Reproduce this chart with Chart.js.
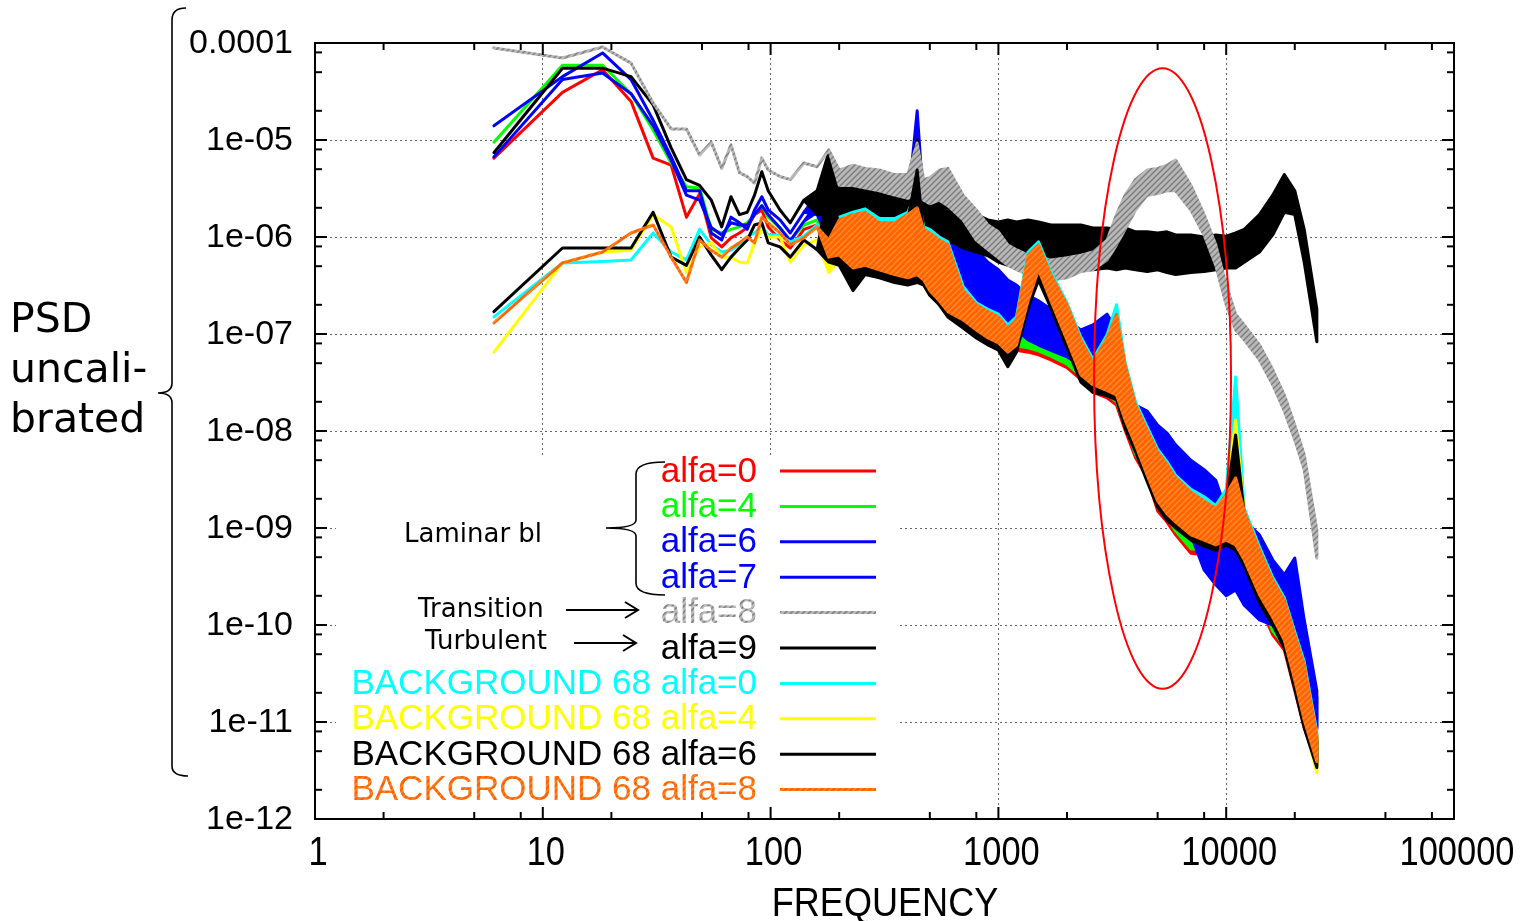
<!DOCTYPE html>
<html>
<head>
<meta charset="utf-8">
<script src="https://cdn.jsdelivr.net/npm/chart.js@4.4.1/dist/chart.umd.min.js"></script>
<style>
  html, body { margin: 0; padding: 0; background: #fff; }
  #wrap { width: 1522px; height: 921px; }
</style>
</head>
<body>
<div id="wrap"><canvas id="psd" width="1522" height="921"></canvas></div>
<script>
// FFT bin frequencies (Hz) used for every trace
const freq = [6.1, 12.2, 18.3, 24.4, 30.5, 36.6, 42.7, 48.8, 54.9, 61, 67, 73, 79, 85, 91.5, 97.6,
  110, 122, 140, 160, 180, 200, 230, 260, 300, 350, 400, 440, 470, 500, 550, 600, 700, 800, 900,
  1000, 1100, 1200, 1350, 1500, 1700, 2000, 2300, 2600, 3000, 3300, 3600, 4000, 4500, 5000, 5500,
  6000, 7000, 8000, 9000, 10000, 11000, 12000, 14000, 16000, 18000, 20000, 22000, 25000];

// each spectrum: upper envelope, and lower envelope where the trace is noisy (null = single line)
const alfa0Upper = [6.5e-6, 3.1e-5, 5.3e-5, 2.5e-5, 6.5e-6, 5.5e-6, 1.6e-6, 2.8e-6, 9.8e-7, 7.9e-7, 9.8e-7, 1.1e-6, 1.25e-6, 1.7e-6, 1.9e-6, 1.27e-6,
  9.3e-7, 7.7e-7, 1.2e-6, 1.33e-6, 1.33e-6, 1.7e-6, 1.7e-6, 1.8e-6, 1.5e-6, 1.43e-6, 1.6e-6, 2.1e-6, 1.13e-6, 1.05e-6, 8.9e-7, 7.4e-7,
  4.1e-7, 2.8e-7, 2.2e-7, 2.0e-7, 1.8e-7, 1.6e-7, 1.4e-7, 1.24e-7, 1.15e-7, 1.1e-7, 8.3e-8, 5.1e-8, 7.7e-8, 9.8e-8, 4.5e-8, 1.7e-8,
  9.8e-9, 5.7e-9, 4.2e-9, 3.1e-9, 2.2e-9, 1.85e-9, 1.5e-9, 2.0e-9, 2.5e-9, 1.45e-9, 5.7e-10, 2.8e-10, 1.7e-10, 7.5e-11, 3.7e-11, 7.0e-12];
const alfa0Lower = [null, null, null, null, null, null, null, null, null, null, null, null, null, null, null, null, null, null, null, null,
  6.1e-7, 5.5e-7, 4.4e-7, 4.6e-7, 4.1e-7, 3.6e-7, 3.4e-7, 3.6e-7, 3.2e-7, 2.6e-7, 2.0e-7, 1.6e-7, 1.33e-7, 1.05e-7, 8.7e-8, 7.4e-8,
  6.5e-8, 6.8e-8, 6.5e-8, 6.1e-8, 5.4e-8, 4.5e-8, 3.4e-8, 2.5e-8, 2.2e-8, 1.85e-8, 1.02e-8, 5.3e-9, 3.3e-9, 1.5e-9, 1.15e-9, 8.5e-10,
  5.5e-10, 5.3e-10, 4.7e-10, 4.7e-10, 4.2e-10, 3.3e-10, 1.6e-10, 7.9e-11, 5.5e-11, 2.1e-11, 8.7e-12, 3.6e-12];

const alfa4Upper = [9.5e-6, 5.9e-5, 5.9e-5, 3.0e-5, 1.27e-5, 5.8e-6, 3.3e-6, 3.2e-6, 1.2e-6, 1.1e-6, 1.2e-6, 1.27e-6, 1.4e-6, 1.7e-6, 2.1e-6, 1.6e-6,
  1.24e-6, 9.3e-7, 1.33e-6, 1.5e-6, 1.4e-6, 1.8e-6, 1.8e-6, 1.9e-6, 1.6e-6, 1.5e-6, 1.65e-6, 5.5e-6, 1.2e-6, 1.1e-6, 9.3e-7, 7.7e-7,
  4.3e-7, 3.0e-7, 2.35e-7, 2.1e-7, 1.85e-7, 1.64e-7, 1.5e-7, 1.3e-7, 1.2e-7, 1.15e-7, 8.7e-8, 5.7e-8, 1.4e-7, 1.02e-7, 4.7e-8, 1.8e-8,
  1.02e-8, 5.9e-9, 4.4e-9, 3.3e-9, 2.35e-9, 1.95e-9, 1.6e-9, 2.1e-9, 4.0e-9, 1.5e-9, 5.9e-10, 2.9e-10, 1.8e-10, 7.9e-11, 3.9e-11, 7.3e-12];
const alfa4Lower = [null, null, null, null, null, null, null, null, null, null, null, null, null, null, null, null, null, null, null, null,
  6.7e-7, 6.1e-7, 4.8e-7, 5.0e-7, 4.5e-7, 4.0e-7, 3.8e-7, 4.0e-7, 3.5e-7, 2.9e-7, 2.2e-7, 1.7e-7, 1.5e-7, 1.15e-7, 9.5e-8, 8.1e-8,
  7.2e-8, 7.5e-8, 7.2e-8, 6.7e-8, 5.9e-8, 4.9e-8, 3.7e-8, 2.8e-8, 2.4e-8, 2.0e-8, 1.13e-8, 5.8e-9, 3.6e-9, 1.7e-9, 1.27e-9, 9.3e-10,
  6.1e-10, 5.9e-10, 5.1e-10, 5.1e-10, 4.7e-10, 3.6e-10, 1.76e-10, 8.7e-11, 6.1e-11, 2.35e-11, 9.5e-12, 3.9e-12];

const alfa6Upper = [1.4e-5, 4.5e-5, 7.9e-5, 4.2e-5, 1.6e-5, 6.7e-6, 3.0e-6, 3.0e-6, 1.1e-6, 9.3e-7, 1.6e-6, 1.4e-6, 1.2e-6, 1.9e-6, 2.6e-6, 1.9e-6,
  1.5e-6, 1.1e-6, 1.8e-6, 2.7e-6, 3.3e-6, 2.4e-6, 2.1e-6, 2.0e-6, 1.7e-6, 1.9e-6, 2.1e-6, 2.0e-5, 2.1e-6, 2.4e-6, 3.9e-6, 1.24e-6,
  9.3e-7, 7.4e-7, 5.5e-7, 4.6e-7, 3.6e-7, 3.2e-7, 2.5e-7, 2.2e-7, 1.8e-7, 1.4e-7, 1.1e-7, 1.24e-7, 1.6e-7, 1.1e-7, 3.8e-8, 1.85e-8,
  1.6e-8, 1.15e-8, 9.5e-9, 7.2e-9, 5.0e-9, 4.0e-9, 3.1e-9, 1.5e-9, 1.5e-9, 1.2e-9, 8.5e-10, 4.7e-10, 3.3e-10, 4.9e-10, 1.13e-10, 2.1e-11];
const alfa6Lower = [null, null, null, null, null, null, null, null, null, null, null, null, null, null, null, null, null, null, null,
  1.7e-6, 9.3e-7, 6.5e-7, 5.5e-7, 4.8e-7, 4.8e-7, 4.6e-7, 4.4e-7, 4.6e-7, 4.1e-7, 3.6e-7, 3.2e-7, 2.8e-7, 2.5e-7, 2.2e-7, 1.8e-7,
  1.5e-7, 1.24e-7, 1.1e-7, 8.7e-8, 7.7e-8, 6.8e-8, 5.8e-8, 4.8e-8, 3.8e-8, 3.0e-8, 2.35e-8, 1.3e-8, 7.2e-9, 3.8e-9, 2.1e-9, 1.5e-9,
  1.24e-9, 8.5e-10, 3.7e-10, 2.6e-10, 2.0e-10, 2.3e-10, 1.6e-10, 1.13e-10, 1.0e-10, 7.0e-11, 3.4e-11, 1.7e-11, 8.3e-12];

const alfa7Upper = [6.7e-6, 4.2e-5, 4.9e-5, 3.0e-5, 1.4e-5, 6.2e-6, 2.7e-6, 2.4e-6, 1.25e-6, 1.05e-6, 1.4e-6, 1.33e-6, 1.33e-6, 1.7e-6, 2.1e-6, 1.7e-6,
  1.24e-6, 9.1e-7, 1.45e-6, 2.2e-6, 2.7e-6, 2.0e-6, 1.8e-6, 1.65e-6, 1.4e-6, 1.6e-6, 1.8e-6, 7.9e-6, 1.8e-6, 2.0e-6, 1.5e-6, 1.02e-6,
  7.7e-7, 6.1e-7, 4.6e-7, 3.8e-7, 2.9e-7, 2.6e-7, 2.1e-7, 1.85e-7, 1.5e-7, 1.15e-7, 9.1e-8, 1.02e-7, 1.3e-7, 9.1e-8, 3.1e-8, 1.5e-8,
  1.36e-8, 9.5e-9, 7.9e-9, 5.9e-9, 4.2e-9, 3.3e-9, 2.6e-9, 1.27e-9, 1.27e-9, 1.0e-9, 7.0e-10, 3.8e-10, 2.7e-10, 1.8e-10, 9.3e-11, 1.8e-11];
const alfa7Lower = [null, null, null, null, null, null, null, null, null, null, null, null, null, null, null, null, null, null, null,
  1.8e-6, 1.0e-6, 7.0e-7, 6.0e-7, 5.1e-7, 5.1e-7, 4.9e-7, 4.7e-7, 4.9e-7, 4.4e-7, 3.9e-7, 3.5e-7, 3.1e-7, 2.7e-7, 2.4e-7, 1.9e-7,
  1.6e-7, 1.33e-7, 1.18e-7, 9.3e-8, 8.3e-8, 7.3e-8, 6.2e-8, 5.1e-8, 4.1e-8, 3.2e-8, 2.5e-8, 1.4e-8, 7.7e-9, 4.1e-9, 2.2e-9, 1.6e-9,
  1.33e-9, 9.1e-10, 4.0e-10, 2.8e-10, 2.2e-10, 2.45e-10, 1.7e-10, 1.2e-10, 1.07e-10, 7.5e-11, 3.7e-11, 1.8e-11, 8.9e-12];

const alfa8Upper = [8.9e-5, 7.0e-5, 9.1e-5, 6.2e-5, 2.4e-5, 1.3e-5, 1.3e-5, 7.0e-6, 9.5e-6, 5.1e-6, 8.9e-6, 4.6e-6, 4.2e-6, 3.6e-6, 6.5e-6, 4.9e-6,
  4.2e-6, 3.9e-6, 5.8e-6, 5.3e-6, 7.9e-6, 4.9e-6, 5.5e-6, 5.1e-6, 4.9e-6, 4.4e-6, 4.4e-6, 9.3e-6, 3.9e-6, 4.1e-6, 4.9e-6, 5.1e-6,
  2.7e-6, 1.9e-6, 1.33e-6, 1.13e-6, 8.3e-7, 7.4e-7, 6.5e-7, 6.2e-7, 5.8e-7, 6.1e-7, 6.5e-7, 7.0e-7, 9.3e-7, 1.7e-6, 2.7e-6, 3.9e-6,
  4.9e-6, 5.1e-6, 5.5e-6, 6.2e-6, 3.4e-6, 1.7e-6, 8.3e-7, 3.2e-7, 1.6e-7, 1.24e-7, 7.7e-8, 4.3e-8, 2.35e-8, 1.15e-8, 5.7e-9, 9.5e-10];
const alfa8Lower = [null, null, null, null, null, null, null, null, null, null, null, null, null, null, null, null, null, null, null, null, null,
  3.4e-6, 3.4e-6, 3.2e-6, 3.0e-6, 2.7e-6, 2.5e-6, 2.7e-6, 2.4e-6, 2.2e-6, 2.4e-6, 2.1e-6, 1.5e-6, 9.3e-7, 7.4e-7, 6.1e-7, 5.1e-7,
  4.6e-7, 4.1e-7, 3.8e-7, 3.6e-7, 3.8e-7, 4.4e-7, 4.6e-7, 5.8e-7, 8.3e-7, 1.2e-6, 1.9e-6, 2.7e-6, 2.8e-6, 3.0e-6, 3.0e-6, 1.9e-6,
  1.05e-6, 5.1e-7, 2.0e-7, 1.1e-7, 8.7e-8, 5.4e-8, 3.0e-8, 1.6e-8, 8.1e-9, 4.0e-9, 4.9e-10];

const alfa9Upper = [7.4e-6, 5.5e-5, 5.5e-5, 4.5e-5, 2.3e-5, 8.3e-6, 3.9e-6, 3.4e-6, 2.4e-6, 1.27e-6, 2.6e-6, 1.7e-6, 1.8e-6, 2.7e-6, 4.7e-6, 3.0e-6,
  1.9e-6, 1.4e-6, 2.4e-6, 3.0e-6, 7.4e-6, 4.4e-6, 4.4e-6, 4.9e-6, 4.4e-6, 4.1e-6, 3.9e-6, 1.0e-5, 3.4e-6, 3.4e-6, 3.9e-6, 4.4e-6,
  1.9e-6, 1.7e-6, 1.5e-6, 1.43e-6, 1.5e-6, 1.43e-6, 1.5e-6, 1.43e-6, 1.33e-6, 1.33e-6, 1.33e-6, 1.24e-6, 1.24e-6, 1.2e-6, 1.24e-6, 1.13e-6,
  1.13e-6, 1.1e-6, 1.13e-6, 1.05e-6, 1.05e-6, 1.0e-6, 1.05e-6, 1.02e-6, 1.1e-6, 1.2e-6, 1.7e-6, 2.7e-6, 4.4e-6, 3.0e-6, 1.2e-6, 1.8e-7];
const alfa9Lower = [null, null, null, null, null, null, null, null, null, null, null, null, null, null, null, null, null, null, null,
  1.7e-6, 1.7e-6, 1.33e-6, 1.2e-6, 1.33e-6, 1.2e-6, 1.13e-6, 1.05e-6, 1.13e-6, 1.13e-6, 1.05e-6, 1.05e-6, 9.3e-7, 7.7e-7, 7.0e-7, 6.4e-7,
  5.5e-7, 5.1e-7, 5.5e-7, 5.5e-7, 5.1e-7, 5.4e-7, 4.8e-7, 5.1e-7, 4.6e-7, 4.8e-7, 4.6e-7, 4.8e-7, 4.6e-7, 4.4e-7, 4.6e-7, 4.3e-7,
  4.1e-7, 4.3e-7, 4.4e-7, 4.6e-7, 4.8e-7, 4.8e-7, 5.5e-7, 7.0e-7, 1.05e-6, 1.8e-6, 1.7e-6, 5.5e-7, 8.3e-8];

const bg0Upper = [1.5e-7, 5.4e-7, 5.6e-7, 5.8e-7, 1.1e-6, 7.0e-7, 5.8e-7, 1.2e-6, 8.3e-7, 7.0e-7, 7.3e-7, 8.3e-7, 1.0e-6, 1.1e-6, 1.27e-6, 1.05e-6,
  1.05e-6, 8.9e-7, 1.02e-6, 1.33e-6, 1.0e-6, 1.6e-6, 1.8e-6, 1.95e-6, 1.55e-6, 1.55e-6, 1.8e-6, 3.0e-6, 1.27e-6, 1.2e-6, 1.0e-6, 8.9e-7,
  3.1e-7, 2.1e-7, 1.8e-7, 1.6e-7, 1.24e-7, 1.5e-7, 7.0e-7, 8.9e-7, 4.4e-7, 2.1e-7, 9.3e-8, 5.5e-8, 9.8e-8, 2.0e-7, 5.1e-8, 2.0e-8,
  1.1e-8, 6.5e-9, 4.8e-9, 3.5e-9, 2.5e-9, 2.1e-9, 1.7e-9, 2.5e-9, 3.6e-8, 1.6e-9, 6.4e-10, 3.1e-10, 1.9e-10, 8.5e-11, 4.2e-11, 7.9e-12];
const bg0Lower = [null, null, null, null, null, null, null, null, null, null, null, null, null, null, null, null, null, null, null, null,
  6.5e-7, 6.8e-7, 5.0e-7, 5.4e-7, 4.8e-7, 4.3e-7, 4.0e-7, 4.3e-7, 3.8e-7, 3.0e-7, 2.35e-7, 1.8e-7, 1.5e-7, 1.1e-7, 7.7e-8, 7.2e-8,
  6.8e-8, 8.1e-8, 2.35e-7, 4.8e-7, 2.35e-7, 9.1e-8, 4.0e-8, 3.1e-8, 2.8e-8, 2.5e-8, 1.36e-8, 7.5e-9, 3.7e-9, 2.0e-9, 1.5e-9, 1.2e-9,
  8.9e-10, 7.9e-10, 7.0e-10, 7.9e-10, 7.0e-10, 4.9e-10, 2.1e-10, 1.24e-10, 7.4e-11, 2.8e-11, 1.1e-11, 4.1e-12];

const bg4Upper = [6.5e-8, 5.4e-7, 7.0e-7, 7.3e-7, 1.7e-6, 1.27e-6, 4.3e-7, 7.9e-7, 8.7e-7, 6.2e-7, 6.2e-7, 5.5e-7, 5.4e-7, 8.7e-7, 1.2e-6, 1.0e-6,
  1.0e-6, 5.5e-7, 8.3e-7, 9.3e-7, 8.9e-7, 1.43e-6, 1.6e-6, 1.75e-6, 1.36e-6, 1.36e-6, 1.6e-6, 1.9e-6, 1.13e-6, 1.07e-6, 8.9e-7, 7.9e-7,
  2.7e-7, 1.9e-7, 1.6e-7, 1.4e-7, 1.1e-7, 1.33e-7, 6.2e-7, 7.9e-7, 3.9e-7, 1.9e-7, 8.3e-8, 4.9e-8, 8.7e-8, 1.5e-7, 4.6e-8, 1.75e-8,
  9.8e-9, 5.8e-9, 4.25e-9, 3.1e-9, 2.2e-9, 1.85e-9, 1.5e-9, 2.1e-9, 1.3e-8, 1.45e-9, 5.7e-10, 2.8e-10, 1.7e-10, 7.5e-11, 3.7e-11, 7.0e-12];
const bg4Lower = [null, null, null, null, null, null, null, null, null, null, null, null, null, null, null, null, null, null, null, null,
  4.3e-7, 5.8e-7, 4.3e-7, 4.8e-7, 4.1e-7, 3.6e-7, 3.4e-7, 3.6e-7, 3.2e-7, 2.6e-7, 2.0e-7, 1.5e-7, 1.24e-7, 1.02e-7, 8.3e-8, 7.5e-8,
  6.1e-8, 7.2e-8, 2.0e-7, 4.2e-7, 2.0e-7, 7.9e-8, 3.4e-8, 2.7e-8, 2.4e-8, 2.1e-8, 1.2e-8, 6.5e-9, 3.2e-9, 1.76e-9, 1.3e-9, 1.05e-9,
  7.7e-10, 6.8e-10, 6.1e-10, 6.8e-10, 6.1e-10, 4.25e-10, 1.85e-10, 1.07e-10, 6.4e-11, 2.5e-11, 9.5e-12, 3.0e-12];

const bg6Upper = [1.7e-7, 7.7e-7, 7.7e-7, 7.7e-7, 1.8e-6, 6.2e-7, 5.1e-7, 1.0e-6, 6.5e-7, 4.6e-7, 6.2e-7, 7.7e-7, 9.3e-7, 1.33e-6, 1.4e-6, 8.7e-7,
  7.9e-7, 6.2e-7, 9.3e-7, 7.4e-7, 3.4e-6, 1.33e-6, 1.33e-6, 1.7e-6, 1.33e-6, 1.33e-6, 1.5e-6, 4.9e-6, 1.05e-6, 9.8e-7, 8.3e-7, 7.4e-7,
  2.5e-7, 1.8e-7, 1.55e-7, 1.33e-7, 1.05e-7, 1.24e-7, 5.5e-7, 7.4e-7, 3.6e-7, 1.8e-7, 7.7e-8, 4.7e-8, 8.3e-8, 1.4e-7, 4.3e-8, 1.6e-8,
  9.3e-9, 5.5e-9, 4.0e-9, 3.0e-9, 2.1e-9, 1.76e-9, 1.45e-9, 1.95e-9, 9.1e-9, 1.4e-9, 5.4e-10, 2.6e-10, 1.64e-10, 7.0e-11, 3.4e-11, 6.5e-12];
const bg6Lower = [null, null, null, null, null, null, null, null, null, null, null, null, null, null, null, null, null, null, null, null,
  5.5e-7, 5.1e-7, 2.8e-7, 4.1e-7, 3.8e-7, 3.4e-7, 3.2e-7, 3.4e-7, 3.2e-7, 2.5e-7, 2.0e-7, 1.5e-7, 1.15e-7, 9.1e-8, 7.7e-8, 6.8e-8,
  4.6e-8, 6.5e-8, 1.85e-7, 3.6e-7, 1.85e-7, 7.2e-8, 3.2e-8, 2.5e-8, 2.3e-8, 2.1e-8, 1.07e-8, 6.1e-9, 3.0e-9, 1.64e-9, 1.2e-9, 1.0e-9,
  7.5e-10, 6.5e-10, 5.9e-10, 6.7e-10, 5.9e-10, 4.1e-10, 1.7e-10, 1.0e-10, 5.8e-11, 2.2e-11, 8.7e-12, 3.4e-12];

const bg8Upper = [1.3e-7, 5.4e-7, 7.0e-7, 1.1e-6, 1.33e-6, 6.2e-7, 3.4e-7, 9.3e-7, 7.3e-7, 6.2e-7, 7.7e-7, 8.7e-7, 1.0e-6, 8.7e-7, 1.6e-6, 1.4e-6,
  1.1e-6, 8.3e-7, 9.8e-7, 1.27e-6, 9.3e-7, 1.5e-6, 1.7e-6, 1.8e-6, 1.4e-6, 1.4e-6, 1.7e-6, 2.0e-6, 1.2e-6, 1.1e-6, 9.3e-7, 8.3e-7,
  2.8e-7, 2.0e-7, 1.7e-7, 1.5e-7, 1.15e-7, 1.4e-7, 6.5e-7, 8.3e-7, 4.1e-7, 2.0e-7, 8.7e-8, 5.1e-8, 9.1e-8, 1.6e-7, 4.8e-8, 1.85e-8,
  1.02e-8, 6.1e-9, 4.5e-9, 3.3e-9, 2.35e-9, 1.9e-9, 1.6e-9, 2.2e-9, 3.3e-9, 1.5e-9, 5.9e-10, 2.9e-10, 1.8e-10, 7.9e-11, 3.9e-11, 7.3e-12];
const bg8Lower = [null, null, null, null, null, null, null, null, null, null, null, null, null, null, null, null, null, null, null, null,
  6.2e-7, 6.5e-7, 4.8e-7, 5.1e-7, 4.6e-7, 4.1e-7, 3.8e-7, 4.1e-7, 3.6e-7, 2.8e-7, 2.2e-7, 1.7e-7, 1.4e-7, 1.1e-7, 9.1e-8, 8.1e-8,
  6.5e-8, 7.7e-8, 2.2e-7, 4.6e-7, 2.2e-7, 8.7e-8, 3.8e-8, 3.0e-8, 2.6e-8, 2.35e-8, 1.3e-8, 7.2e-9, 3.5e-9, 1.9e-9, 1.4e-9, 1.15e-9,
  8.5e-10, 7.5e-10, 6.7e-10, 7.5e-10, 6.7e-10, 4.7e-10, 2.05e-10, 1.2e-10, 7.0e-11, 2.7e-11, 1.05e-11, 3.9e-12];

const xTickLabels = ['1', '10', '100', '1000', '10000', '100000'];
const yTickLabels = ['1e-12', '1e-11', '1e-10', '1e-09', '1e-08', '1e-07', '1e-06', '1e-05', '0.0001'];

// diagonal hatch used for the gnuplot-style textured traces
function hatch(base, stripe) {
  const c = document.createElement('canvas');
  c.width = 6; c.height = 6;
  const g = c.getContext('2d');
  g.fillStyle = base;
  g.fillRect(0, 0, 6, 6);
  g.strokeStyle = stripe;
  g.lineWidth = 1.4;
  g.beginPath();
  g.moveTo(0, 6); g.lineTo(6, 0);
  g.moveTo(-3, 3); g.lineTo(3, -3);
  g.moveTo(3, 9); g.lineTo(9, 3);
  g.stroke();
  return g.createPattern(c, 'repeat');
}
const grayHatch = hatch('#b8b8b8', '#7c7c7c');
const orangeHatch = hatch('#ff6400', '#ff8a30');

// order: larger number sits further back
const series = [
  { label: 'alfa=0', color: '#ff0000', upper: alfa0Upper, lower: alfa0Lower, order: 10 },
  { label: 'alfa=4', color: '#00ff00', upper: alfa4Upper, lower: alfa4Lower, order: 9 },
  { label: 'alfa=6', color: '#0000ff', upper: alfa6Upper, lower: alfa6Lower, order: 8 },
  { label: 'alfa=7', color: '#0000ff', upper: alfa7Upper, lower: alfa7Lower, order: 7 },
  { label: 'alfa=8', color: grayHatch, upper: alfa8Upper, lower: alfa8Lower, order: 5 },
  { label: 'alfa=9', color: '#000000', upper: alfa9Upper, lower: alfa9Lower, order: 6 },
  { label: 'BACKGROUND 68 alfa=0', color: '#00ffff', upper: bg0Upper, lower: bg0Lower, order: 4 },
  { label: 'BACKGROUND 68 alfa=4', color: '#ffff00', upper: bg4Upper, lower: bg4Lower, order: 3 },
  { label: 'BACKGROUND 68 alfa=6', color: '#000000', upper: bg6Upper, lower: bg6Lower, order: 2 },
  { label: 'BACKGROUND 68 alfa=8', color: orangeHatch, upper: bg8Upper, lower: bg8Lower, order: 1 }
];

// closed outline: along the upper envelope, back along the lower one
function outline(upper, lower) {
  const pts = freq.map((f, i) => ({ x: f, y: upper[i] }));
  for (let i = freq.length - 1; i >= 0; i--) {
    pts.push({ x: freq[i], y: lower[i] ?? upper[i] });
  }
  return pts;
}

const datasets = series.map(s => ({
  label: s.label,
  data: outline(s.upper, s.lower),
  borderColor: s.color,
  backgroundColor: s.color,
  borderWidth: 3,
  borderJoinStyle: 'round',
  borderCapStyle: 'round',
  pointRadius: 0,
  tension: 0,
  fill: 'shape',
  order: s.order
}));

function strokePath(ctx, pts) {
  ctx.beginPath();
  ctx.moveTo(pts[0][0], pts[0][1]);
  for (let i = 1; i < pts.length; i++) ctx.lineTo(pts[i][0], pts[i][1]);
  ctx.stroke();
}

const decor = {
  id: 'decor',
  beforeDatasetsDraw(chart) {
    // key box hides the grid underneath it
    const ctx = chart.ctx;
    ctx.save();
    ctx.fillStyle = '#ffffff';
    ctx.fillRect(336, 455, 561, 352);
    ctx.restore();
  },
  afterDraw(chart) {
    const ctx = chart.ctx;
    const xs = chart.scales.x, ys = chart.scales.y;
    const a = chart.chartArea;
    ctx.save();

    // frame
    ctx.strokeStyle = '#000';
    ctx.lineWidth = 2;
    ctx.strokeRect(a.left, a.top, a.right - a.left, a.bottom - a.top);

    // inward tick marks on all four sides (majors at decades, minors at 2, 5, 8)
    ctx.lineWidth = 2;
    for (let e = 0; e <= 5; e++) {
      for (const m of [1, 2, 5, 8]) {
        if (e === 5 && m > 1) continue;
        const px = xs.getPixelForValue(m * Math.pow(10, e));
        const len = m === 1 ? 12 : 7;
        strokePath(ctx, [[px, a.bottom], [px, a.bottom - len]]);
        strokePath(ctx, [[px, a.top], [px, a.top + len]]);
      }
    }
    for (let e = -12; e <= -4; e++) {
      for (const m of [1, 2, 5, 8]) {
        if (e === -4 && m > 1) continue;
        const py = ys.getPixelForValue(m * Math.pow(10, e));
        const len = m === 1 ? 12 : 7;
        strokePath(ctx, [[a.left, py], [a.left + len, py]]);
        strokePath(ctx, [[a.right, py], [a.right - len, py]]);
      }
    }

    // y tick labels
    ctx.fillStyle = '#000';
    ctx.font = '34px "Liberation Sans", Arial, sans-serif';
    ctx.textAlign = 'right';
    ctx.textBaseline = 'middle';
    yTickLabels.forEach((t, i) => {
      ctx.fillText(t, 293, ys.getPixelForValue(Math.pow(10, i - 12)) + 1);
    });

    // x tick labels, narrow face
    ctx.font = '41px "Liberation Sans", Arial, sans-serif';
    ctx.textAlign = 'center';
    xTickLabels.forEach((t, i) => {
      const px = xs.getPixelForValue(Math.pow(10, i));
      ctx.save();
      ctx.translate(px + 3, 854);
      ctx.scale(0.84, 1);
      ctx.fillText(t, 0, 0);
      ctx.restore();
    });
    ctx.save();
    ctx.translate(885, 905);
    ctx.scale(0.88, 1);
    ctx.fillText('FREQUENCY', 0, 0);
    ctx.restore();

    // y axis title with brace
    ctx.font = '41px "DejaVu Sans", Verdana, sans-serif';
    ctx.textAlign = 'left';
    ctx.textBaseline = 'alphabetic';
    ctx.fillText('PSD', 10, 332);
    ctx.fillText('uncali-', 10, 382);
    ctx.fillText('brated', 10, 432);
    ctx.lineWidth = 1.6;
    ctx.beginPath();
    ctx.moveTo(186, 8);
    ctx.quadraticCurveTo(172, 8, 172, 20);
    ctx.lineTo(172, 383);
    ctx.quadraticCurveTo(172, 393, 158, 393);
    ctx.quadraticCurveTo(172, 393, 172, 403);
    ctx.lineTo(172, 766);
    ctx.quadraticCurveTo(172, 776, 188, 776);
    ctx.stroke();

    // key
    const rowY = i => 471 + i * 35.4;
    ctx.font = '35px "Liberation Sans", Arial, sans-serif';
    ctx.textAlign = 'right';
    ctx.textBaseline = 'middle';
    series.forEach((s, i) => {
      const y = rowY(i);
      ctx.fillStyle = s.color;
      ctx.fillText(s.label, 757, y + 1);
      ctx.strokeStyle = s.color;
      ctx.lineWidth = 3;
      strokePath(ctx, [[780, y], [876, y]]);
    });

    // group notes beside the key
    ctx.fillStyle = '#000';
    ctx.strokeStyle = '#000';
    ctx.font = '26px "DejaVu Sans", Verdana, sans-serif';
    ctx.textAlign = 'left';
    ctx.fillText('Laminar bl', 404, 535);
    ctx.fillText('Transition', 418, 610);
    ctx.fillText('Turbulent', 425, 642);
    ctx.lineWidth = 1.6;
    ctx.beginPath();
    ctx.moveTo(665, 462);
    ctx.quadraticCurveTo(636, 462, 636, 474);
    ctx.lineTo(636, 520);
    ctx.quadraticCurveTo(636, 528, 606, 528);
    ctx.quadraticCurveTo(636, 528, 636, 536);
    ctx.lineTo(636, 583);
    ctx.quadraticCurveTo(636, 595, 665, 595);
    ctx.stroke();
    ctx.lineWidth = 2;
    strokePath(ctx, [[566, 610], [638, 610]]);
    strokePath(ctx, [[625, 602], [638, 610], [625, 618]]);
    strokePath(ctx, [[574, 643], [636, 643]]);
    strokePath(ctx, [[623, 635], [636, 643], [623, 651]]);

    // highlight around the transition hump
    const x1 = xs.getPixelForValue(2630), x2 = xs.getPixelForValue(10500);
    const y1 = ys.getPixelForValue(5.5e-5), y2 = ys.getPixelForValue(2.2e-11);
    ctx.strokeStyle = '#ff0000';
    ctx.lineWidth = 2;
    ctx.beginPath();
    ctx.ellipse((x1 + x2) / 2, (y1 + y2) / 2, (x2 - x1) / 2, (y2 - y1) / 2, 0, 0, Math.PI * 2);
    ctx.stroke();

    ctx.restore();
  }
};

new Chart(document.getElementById('psd').getContext('2d'), {
  type: 'line',
  data: { datasets },
  options: {
    responsive: false,
    animation: false,
    devicePixelRatio: 1,
    layout: { padding: { left: 315, top: 43, right: 68, bottom: 102 } },
    plugins: { legend: { display: false }, tooltip: { enabled: false } },
    scales: {
      x: {
        type: 'logarithmic',
        min: 1,
        max: 100000,
        afterBuildTicks: s => { s.ticks = [1, 10, 100, 1000, 10000, 100000].map(v => ({ value: v })); },
        ticks: { display: false },
        grid: { color: '#666', lineWidth: 1, drawTicks: false },
        border: { display: false, dash: [2, 3] }
      },
      y: {
        type: 'logarithmic',
        min: 1e-12,
        max: 1e-4,
        afterBuildTicks: s => { s.ticks = [1e-12, 1e-11, 1e-10, 1e-9, 1e-8, 1e-7, 1e-6, 1e-5, 1e-4].map(v => ({ value: v })); },
        ticks: { display: false },
        grid: { color: '#666', lineWidth: 1, drawTicks: false },
        border: { display: false, dash: [2, 3] }
      }
    }
  },
  plugins: [decor]
});
</script>
</body>
</html>
